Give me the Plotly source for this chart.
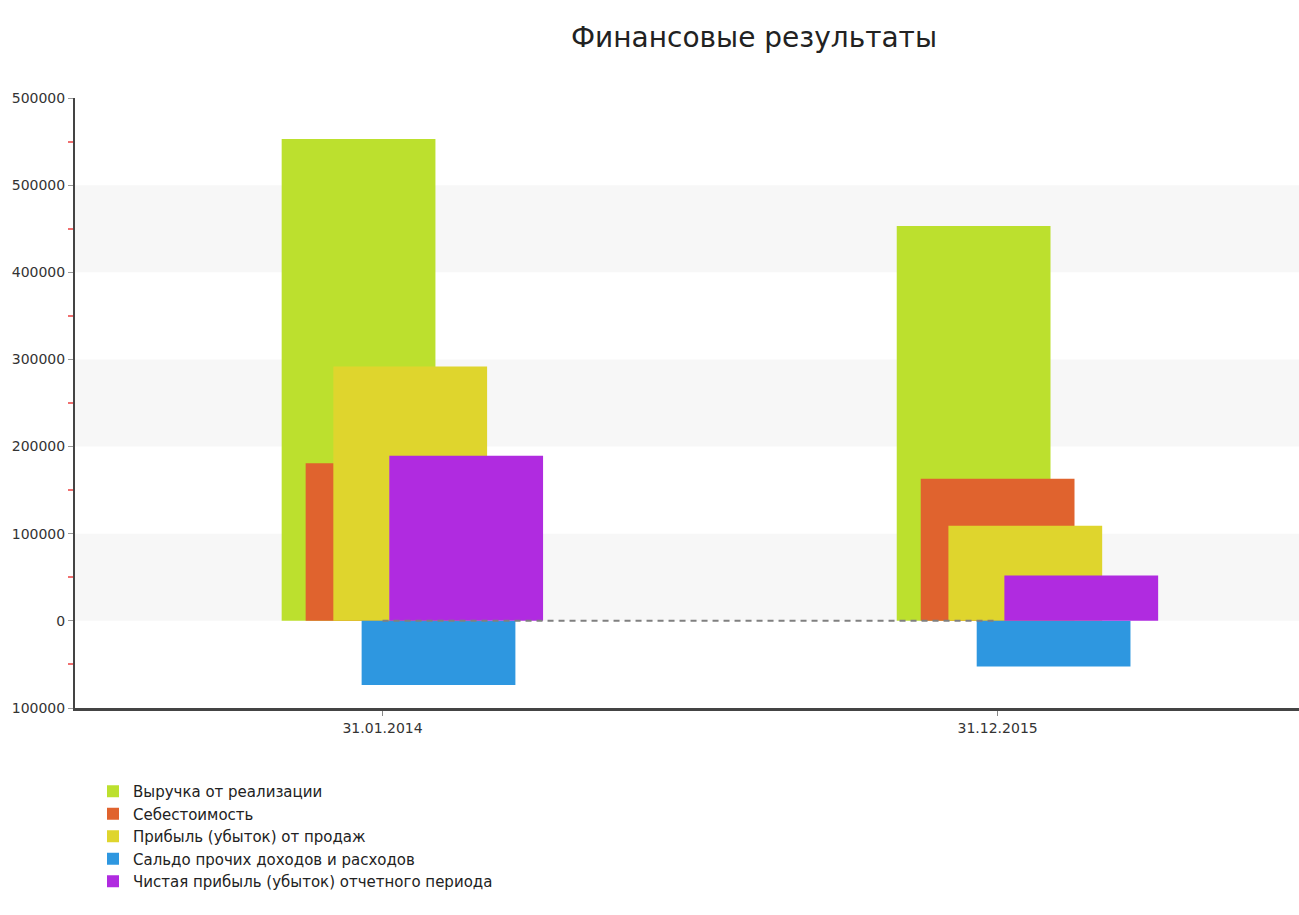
import plotly.graph_objects as go

# ---- data ----
categories = ["31.01.2014", "31.12.2015"]
series_names = [
    "Выручка от реализации",
    "Себестоимость",
    "Прибыль (убыток) от продаж",
    "Сальдо прочих доходов и расходов",
    "Чистая прибыль (убыток) отчетного периода",
]
revenue = [553000, 453000]
cost = [181000, 163000]
sales_profit = [292000, 109000]
other_balance = [-73500, -52500]
net_profit = [189500, 52000]
series_values = [revenue, cost, sales_profit, other_balance, net_profit]

y_tick_vals = [-100000, 0, 100000, 200000, 300000, 400000, 500000, 600000]
y_tick_text = ["100000", "0", "100000", "200000", "300000", "400000", "500000", "500000"]
title_text = "Финансовые результаты"

# ---- style ----
colors = ["#BCE02E", "#E0632E", "#DFD52D", "#2E97E0", "#B02BE0"]
offsets = [-0.164, -0.125, -0.080, -0.034, 0.011]
bar_width = 0.25
W, H = 1299, 915
FONT = "DejaVu Sans"

fig = go.Figure()
for name, vals, col, off in zip(series_names, series_values, colors, offsets):
    fig.add_trace(go.Bar(
        x=categories, y=vals, name=name,
        marker=dict(color=col, line=dict(width=0)),
        width=bar_width, offset=off,
    ))

shapes = []
# alternating light bands
for lo in range(0, 600000, 200000):
    shapes.append(dict(type="rect", xref="paper", yref="y", x0=0, x1=1,
                       y0=lo, y1=lo + 100000, fillcolor="#F7F7F7",
                       line=dict(width=0), layer="below"))
# dashed zero line between categories
shapes.append(dict(type="line", xref="x", yref="y", x0=categories[0], x1=categories[-1],
                   y0=0, y1=0, line=dict(color="#808080", width=2, dash="6px,5px"),
                   layer="above"))

minor_vals = [v + 50000 for v in y_tick_vals[:-1]]

fig.update_layout(
    width=W, height=H,
    margin=dict(l=75, r=0, t=98, b=207, autoexpand=False),
    paper_bgcolor="white", plot_bgcolor="white",
    barmode="overlay",
    shapes=shapes,
    font=dict(family=FONT, color="#333333"),
    title=dict(text=title_text, x=754 / W, xref="container", xanchor="center",
               y=1 - 37 / H, yref="container", yanchor="middle",
               font=dict(family=FONT, size=28, color="#222222")),
    showlegend=True,
    legend=dict(
        x=93 / W, xref="container", xanchor="left",
        y=1 - 775 / H, yref="container", yanchor="top",
        font=dict(family=FONT, size=15, color="#222222"),
        tracegroupgap=0, itemclick=False, bgcolor="rgba(0,0,0,0)",
        traceorder="normal",
    ),
    xaxis=dict(
        type="category", range=[-0.5, 1.49],
        showline=True, linecolor="#444444", linewidth=3,
        ticks="outside", ticklen=5, tickcolor="#888888",
        showgrid=False, zeroline=False,
        tickfont=dict(family=FONT, size=14, color="#333333"),
    ),
    yaxis=dict(
        range=[-100000, 600000],
        tickmode="array", tickvals=y_tick_vals, ticktext=y_tick_text,
        showline=True, linecolor="#444444", linewidth=2,
        ticks="outside", ticklen=5, tickcolor="#999999",
        showgrid=False, zeroline=False,
        tickfont=dict(family=FONT, size=14, color="#333333"),
        minor=dict(tickmode="array", tickvals=minor_vals, ticks="outside",
                   ticklen=5, tickwidth=2, tickcolor="#F07070", showgrid=False),
    ),
)

fig.write_html("out.html")
